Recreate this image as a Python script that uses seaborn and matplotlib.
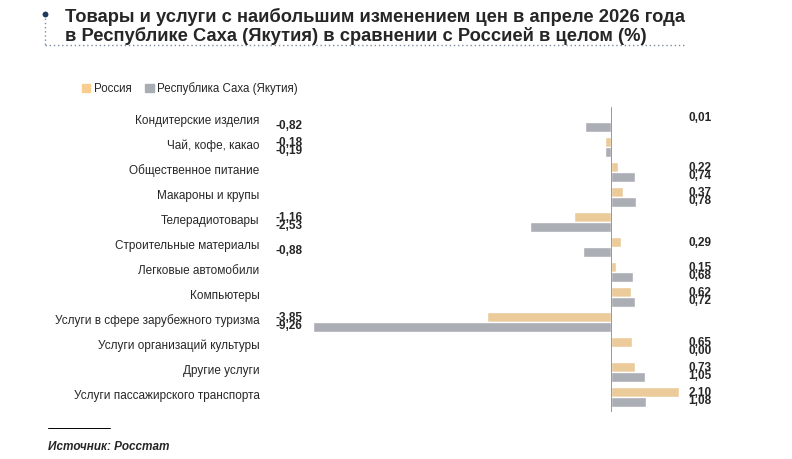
import matplotlib
matplotlib.use("Agg")
import matplotlib.pyplot as plt
import seaborn as sns
import pandas as pd
from matplotlib.lines import Line2D

categories = [
    "Кондитерские изделия", "Чай, кофе, какао", "Общественное питание",
    "Макароны и крупы", "Телерадиотовары", "Строительные материалы",
    "Легковые автомобили", "Компьютеры", "Услуги в сфере зарубежного туризма",
    "Услуги организаций культуры", "Другие услуги", "Услуги пассажирского транспорта",
]
russia = [0.01, -0.18, 0.22, 0.37, -1.16, 0.29, 0.15, 0.62, -3.85, 0.65, 0.73, 2.10]
sakha = [-0.82, -0.19, 0.74, 0.78, -2.53, -0.88, 0.68, 0.72, -9.26, 0.00, 1.05, 1.08]
series = ["Россия", "Республика Саха (Якутия)"]
colors = ["#F9CD8E", "#A9AEB5"]

df = pd.DataFrame({
    "cat": categories * 2,
    "val": russia + sakha,
    "series": [series[0]] * 12 + [series[1]] * 12,
})

sns.set_style("white")
plt.rcParams["font.family"] = ["Liberation Sans", "DejaVu Sans"]

W, H = 792, 459
fig = plt.figure(figsize=(W / 100, H / 100), dpi=100)
ax = fig.add_axes([300 / W, 1 - 412 / H, 400 / W, 305 / H])
sns.barplot(data=df, y="cat", x="val", hue="series", palette=colors,
            orient="h", width=0.78, ax=ax, legend=False)
ax.set_xlim(-9.65, 2.75)
ax.set_ylim(11.6, -0.6)
ax.axis("off")
ax.axvline(0, color="#888888", lw=0.6)

def fmt(v):
    return f"{v:.2f}".replace(".", ",")

for i, cat in enumerate(categories):
    ax.text(-10.9, i - 0.05, cat, ha="right", va="center", fontsize=8.5, clip_on=False)
    for j, v in enumerate((russia[i], sakha[i])):
        y = i - 0.17 + j * 0.34
        if v < 0:
            ax.text(-10.4, y, fmt(v), ha="left", va="center", fontsize=8.5,
                    fontweight="bold", clip_on=False)
        else:
            ax.text(3.1, y, fmt(v), ha="right", va="center", fontsize=8.5,
                    fontweight="bold", clip_on=False)

# legend
handles = [plt.Rectangle((0, 0), 1, 1, color=c) for c in colors]
fig.legend(handles, series, loc="center left", bbox_to_anchor=(72 / W, 1 - 89 / H),
           ncol=2, frameon=False, fontsize=8.3, handlelength=0.7, handleheight=0.7,
           handletextpad=0.3, columnspacing=1.2)

# title
fig.text(65 / W, 1 - 17 / H, "Товары и услуги с наибольшим изменением цен в апреле 2026 года",
         fontsize=13.2, fontweight="bold", va="center")
fig.text(65 / W, 1 - 36 / H, "в Республике Саха (Якутия) в сравнении с Россией в целом (%)",
         fontsize=13.2, fontweight="bold", va="center")
fig.add_artist(Line2D([45 / W, 45 / W], [1 - 14 / H, 1 - 45 / H], color="#7A8C9E",
                      lw=1, ls=(0, (1, 2))))
fig.add_artist(Line2D([45 / W, 685 / W], [1 - 45 / H, 1 - 45 / H], color="#7A8C9E",
                      lw=1, ls=(0, (1, 2))))
fig.add_artist(Line2D([45 / W, 45 / W], [1 - 14 / H, 1 - 14 / H], color="#1F3A5F",
                      marker="o", ms=3))

# source
fig.add_artist(Line2D([48 / W, 110 / W], [1 - 428 / H, 1 - 428 / H], color="black", lw=0.7))
fig.text(48 / W, 1 - 447 / H, "Источник: Росстат", fontsize=8.5, fontweight="bold",
         fontstyle="italic", va="center")

fig.savefig("out.png", dpi=100)
